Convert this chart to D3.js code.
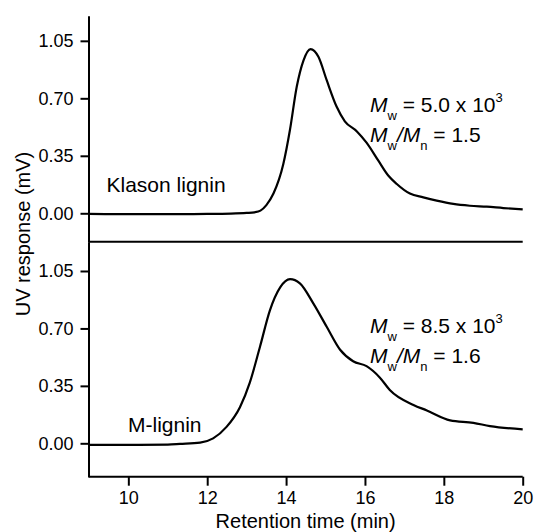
<!DOCTYPE html>
<html><head><meta charset="utf-8">
<script src="https://cdn.jsdelivr.net/npm/d3@7"></script>
<style>body{margin:0;background:#fff}svg{display:block;font-family:Arial,"Liberation Sans",sans-serif}</style>
</head><body><svg id="c" width="534" height="532"></svg>
<script>
const xTicks = [10, 12, 14, 16, 18, 20];
const yTicks = [0.00, 0.35, 0.70, 1.05];

const klasonTime = [9.0, 10.0, 11.0, 12.0, 12.6, 13.0, 13.2, 13.35, 13.5, 13.68, 13.93, 14.10, 14.27, 14.44, 14.62, 14.82, 15.03, 15.28, 15.49, 15.79, 16.04, 16.34, 16.59, 16.80, 17.14, 17.48, 17.82, 18.24, 18.66, 19.09, 19.51, 20.0];
const klasonValue = [-0.004, -0.005, -0.005, -0.004, -0.002, 0.002, 0.006, 0.016, 0.05, 0.12, 0.30, 0.51, 0.77, 0.93, 1.00, 0.953, 0.81, 0.65, 0.56, 0.50, 0.43, 0.32, 0.23, 0.18, 0.12, 0.097, 0.077, 0.057, 0.046, 0.040, 0.032, 0.024];

const mTime = [9.0, 10.0, 11.0, 11.31, 11.82, 12.15, 12.49, 12.83, 13.08, 13.34, 13.59, 13.85, 14.10, 14.35, 14.69, 15.03, 15.37, 15.70, 16.04, 16.38, 16.63, 17.23, 17.57, 18.16, 18.75, 19.17, 20.0];
const mValue = [-0.01, -0.01, -0.008, -0.004, 0.004, 0.03, 0.10, 0.22, 0.37, 0.59, 0.81, 0.95, 1.00, 0.975, 0.853, 0.71, 0.57, 0.50, 0.47, 0.40, 0.325, 0.234, 0.20, 0.14, 0.125, 0.105, 0.085];

const svg = d3.select("#c");
const x = d3.scaleLinear().domain([9, 20]).range([88.9, 522.7]);
const yTop = d3.scaleLinear().domain([-0.173, 1.203]).range([241.7, 15.7]);
const yBot = d3.scaleLinear().domain([-0.2035, 1.2285]).range([476.7, 241.7]);

function styleAxis(g){
  g.selectAll("path,line").attr("stroke","#000").attr("stroke-width",2);
  g.selectAll("text").attr("font-size",18).attr("fill","#000").attr("font-family","Arial, 'Liberation Sans', sans-serif");
}

[yTop, yBot].forEach(ys => {
  const g = svg.append("g").attr("transform","translate(88.5,0)")
    .call(d3.axisLeft(ys).tickValues(yTicks).tickFormat(d3.format(".2f")).tickSize(8).tickSizeOuter(0).tickPadding(7));
  styleAxis(g);
});

const gx = svg.append("g").attr("transform","translate(0,476.7)")
  .call(d3.axisBottom(x).tickValues(xTicks).tickSize(9).tickSizeOuter(0).tickPadding(6));
styleAxis(gx);
gx.select(".domain").attr("d", "M88.5,0H522.7");

// divider
svg.append("line").attr("x1",88.5).attr("x2",522.7).attr("y1",241.7).attr("y2",241.7)
  .attr("stroke","#000").attr("stroke-width",2);

const lineTop = d3.line().x((d,i)=>x(klasonTime[i])).y(d=>yTop(d)).curve(d3.curveMonotoneX);
const lineBot = d3.line().x((d,i)=>x(mTime[i])).y(d=>yBot(d)).curve(d3.curveMonotoneX);
svg.append("path").attr("d", lineTop(klasonValue)).attr("fill","none").attr("stroke","#000").attr("stroke-width",2.2).attr("stroke-linejoin","round");
svg.append("path").attr("d", lineBot(mValue)).attr("fill","none").attr("stroke","#000").attr("stroke-width",2.2).attr("stroke-linejoin","round");

// labels
svg.append("text").attr("x",106.5).attr("y",192.3).attr("font-size",21).text("Klason lignin");
svg.append("text").attr("x",128).attr("y",431.7).attr("font-size",21).text("M-lignin");

function annot(y0, mw, pdi){
  const t1 = svg.append("text").attr("x",370).attr("y",y0).attr("font-size",21);
  t1.append("tspan").attr("font-style","italic").text("M");
  t1.append("tspan").attr("font-size",13).attr("dy",8).text("w");
  t1.append("tspan").attr("dy",-8).text(" = " + mw + " x 10");
  t1.append("tspan").attr("font-size",13).attr("dy",-10).text("3");
  const t2 = svg.append("text").attr("x",370).attr("y",y0+30).attr("font-size",21);
  t2.append("tspan").attr("font-style","italic").text("M");
  t2.append("tspan").attr("font-size",13).attr("dy",8).text("w");
  t2.append("tspan").attr("dy",-8).attr("font-style","italic").text("/M");
  t2.append("tspan").attr("font-size",13).attr("dy",8).text("n");
  t2.append("tspan").attr("dy",-8).text(" = " + pdi);
}
annot(111.7, "5.0", "1.5");
annot(332.7, "8.5", "1.6");

svg.append("text").attr("x",305.6).attr("y",528).attr("text-anchor","middle").attr("font-size",20).text("Retention time (min)");
svg.append("text").attr("transform","translate(30,234) rotate(-90)").attr("text-anchor","middle").attr("font-size",20).text("UV response (mV)");
</script></body></html>
